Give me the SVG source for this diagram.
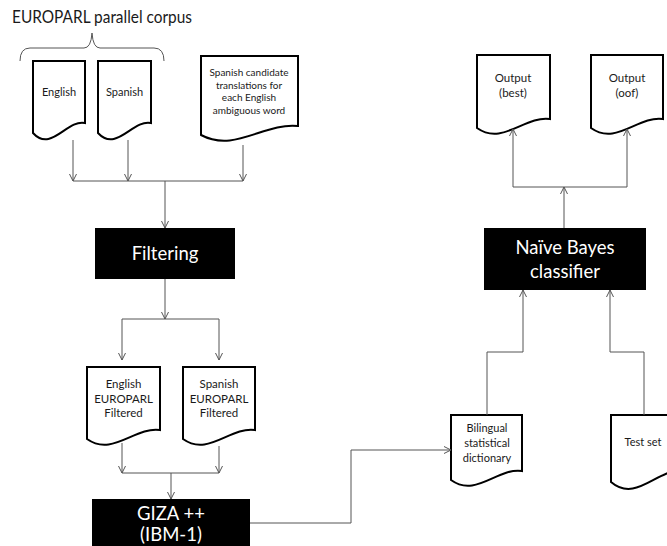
<svg xmlns="http://www.w3.org/2000/svg" width="667" height="546" viewBox="0 0 667 546">
<defs>
<marker id="arr" markerWidth="10" markerHeight="10" refX="8" refY="4" orient="auto" markerUnits="userSpaceOnUse">
<path d="M1,0.5 L8,4 L1,7.5" fill="none" stroke="#555" stroke-width="1"/>
</marker>
<style>
.doc{fill:#fff;stroke:#000;stroke-width:2;stroke-linejoin:miter}
.box{fill:#000}
.t{font-family:Lato,"Liberation Sans",sans-serif;fill:#1a1a1a;text-anchor:middle}
.s10{font-size:10px}
.s11{font-size:11px}
.s12{font-size:11.5px}
.w{font-family:Lato,"Liberation Sans",sans-serif;fill:#fff;text-anchor:middle;font-size:18.5px}
.c{fill:none;stroke:#555;stroke-width:1}
.ca{fill:none;stroke:#555;stroke-width:1;marker-end:url(#arr)}
</style>
</defs>
<rect width="667" height="546" fill="#fff"/>

<g id="title">
<text x="12" y="23" font-family="Lato,'Liberation Sans',sans-serif" font-size="16.5" fill="#1a1a1a" textLength="180" lengthAdjust="spacingAndGlyphs">EUROPARL parallel corpus</text>
<path class="c" d="M20,61 Q20,48 30,48 L84,48 Q91,48 92,33 Q93,48 100,48 L154,48 Q164,48 164,61" stroke="#444"/>
</g>

<g id="doc-english">
<path class="doc" d="M33,61 H85 V123 C66.8,119 51.2,153 33,133 Z"/>
<text class="t s11" x="59" y="96">English</text>
</g>
<g id="doc-spanish">
<path class="doc" d="M98,61 H151 V123 C132.5,119 116.6,153 98,133 Z"/>
<text class="t s11" x="124.5" y="96">Spanish</text>
</g>
<g id="doc-candidate">
<path class="doc" d="M201,56 H298 V126 C264,122.4 235,153 201,135 Z"/>
<text class="t s10" x="249" y="76">Spanish candidate</text>
<text class="t s10" x="249" y="88.5">translations for</text>
<text class="t s10" x="249" y="101">each English</text>
<text class="t s10" x="249" y="113.5">ambiguous word</text>
</g>

<g id="filtering">
<rect class="box" x="95" y="228" width="140" height="51"/>
<text class="w" x="165" y="260">Filtering</text>
</g>

<g id="doc-en-filtered">
<path class="doc" d="M87,367 H160 V430 C134.5,426.4 112.5,457 87,439 Z"/>
<text class="t s12" x="123.5" y="388">English</text>
<text class="t s12" x="123.5" y="402.5">EUROPARL</text>
<text class="t s12" x="123.5" y="417">Filtered</text>
</g>
<g id="doc-es-filtered">
<path class="doc" d="M183,367 H255 V430 C229.8,426.4 208.2,457 183,439 Z"/>
<text class="t s12" x="219" y="388">Spanish</text>
<text class="t s12" x="219" y="402.5">EUROPARL</text>
<text class="t s12" x="219" y="417">Filtered</text>
</g>

<g id="giza">
<rect class="box" x="92" y="499" width="158" height="50"/>
<text class="w" x="171" y="520">GIZA ++</text>
<text class="w" x="171" y="541">(IBM-1)</text>
</g>

<g id="doc-bilingual">
<path class="doc" d="M451,415 H522 V471 C497.2,467.4 475.9,498 451,480 Z"/>
<text class="t s11" x="487" y="432">Bilingual</text>
<text class="t s11" x="487" y="447">statistical</text>
<text class="t s11" x="487" y="462">dictionary</text>
</g>
<g id="doc-testset">
<path class="doc" d="M611,415 H684 V471 C658.5,466.6 636.6,504 611,482 Z"/>
<text class="t s11" x="643" y="446">Test set</text>
</g>

<g id="naive-bayes">
<rect class="box" x="484" y="228" width="162" height="62"/>
<text class="w" x="565" y="254">Naïve Bayes</text>
<text class="w" x="565" y="278">classifier</text>
</g>

<g id="doc-output-best">
<path class="doc" d="M477,55 H550 V119 C524.5,115.4 502.5,146 477,128 Z"/>
<text class="t s12" x="513" y="82">Output</text>
<text class="t s12" x="513" y="97">(best)</text>
</g>
<g id="doc-output-oof">
<path class="doc" d="M591,55 H663 V119 C637.8,115.4 616.2,146 591,128 Z"/>
<text class="t s12" x="627" y="82">Output</text>
<text class="t s12" x="627" y="97">(oof)</text>
</g>

<g id="connectors">
<path class="ca" d="M73,140 V181"/>
<path class="ca" d="M128,140 V181"/>
<path class="ca" d="M243,145 V181"/>
<path class="c" d="M73,181 H243"/>
<path class="ca" d="M165,181 V228"/>
<path class="ca" d="M165,279 V319"/>
<path class="c" d="M122,319 H219"/>
<path class="ca" d="M122,319 V360"/>
<path class="ca" d="M219,319 V360"/>
<path class="ca" d="M122,443 V473"/>
<path class="ca" d="M219,446 V473"/>
<path class="c" d="M122,473 H219"/>
<path class="ca" d="M171,473 V499"/>
<path class="ca" d="M250,523 H351 V450 H451"/>
<path class="ca" d="M487,415 V352 H523 V290"/>
<path class="ca" d="M644,415 V352 H610 V290"/>
<path class="ca" d="M564,228 V187"/>
<path class="c" d="M513,187 H627"/>
<path class="ca" d="M513,187 V129"/>
<path class="ca" d="M627,187 V129"/>
</g>
</svg>
